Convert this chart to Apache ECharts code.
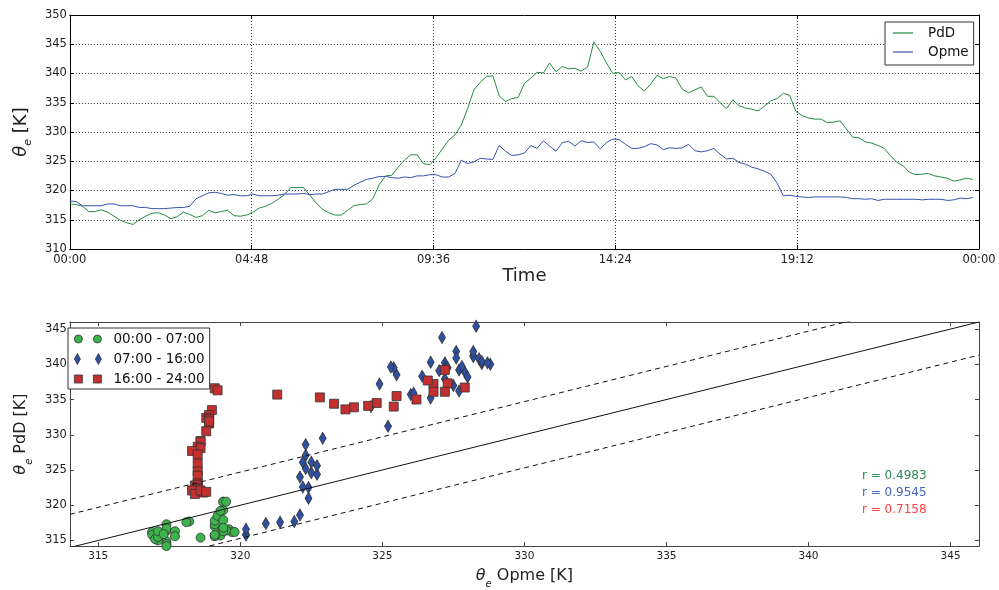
<!DOCTYPE html>
<html>
<head>
<meta charset="utf-8">
<script src="https://cdn.jsdelivr.net/npm/echarts@6/dist/echarts.min.js"></script>
<style>
  html, body { margin: 0; padding: 0; background: #fff; }
  #chart { width: 999px; height: 590px; }
</style>
</head>
<body>
<div id="chart"></div>
<script>
// Equivalent potential temperature at the two stations, one value every 10 minutes.
const SAMPLE_MINUTES = 10;

// 00:00 - 06:50
const PDD_NIGHT = [
  317.7, 317.6, 317.3, 316.4, 316.4, 316.7, 316.3, 315.6, 314.9, 314.5,
  314.2, 315.0, 315.6, 316.1, 316.2, 315.8, 315.2, 315.5, 316.3, 315.9,
  315.4, 315.7, 316.6, 316.2, 316.4, 316.6, 315.7, 315.6, 315.8, 316.3,
  317.0, 317.3, 317.8, 318.5, 319.3, 320.5, 320.5, 320.5, 319.2, 317.9,
  316.8, 316.2
];
const OPME_NIGHT = [
  318.2, 318.1, 317.4, 317.4, 317.4, 317.4, 317.7, 317.7, 317.4, 317.4,
  317.4, 317.1, 317.1, 316.9, 316.9, 316.9, 317.0, 317.1, 317.1, 317.3,
  318.6, 319.1, 319.6, 319.7, 319.5, 319.2, 319.3, 319.1, 319.1, 319.4,
  319.1, 319.1, 319.1, 319.2, 319.4, 319.4, 319.4, 319.5, 319.3, 319.4,
  319.4, 319.8
];

// 07:00 - 15:50
const PDD_DAY = [
  315.8, 315.8, 316.6, 317.4, 317.6, 317.7, 318.6, 321.0, 322.5, 322.6,
  324.0, 325.2, 326.1, 326.1, 324.6, 324.4, 325.6, 327.1, 328.6, 329.5,
  331.2, 334.0, 337.2, 338.5, 339.5, 339.6, 336.2, 335.2, 335.7, 335.9,
  338.3, 339.2, 340.2, 340.1, 341.8, 340.3, 341.2, 340.8, 340.9, 340.4,
  341.1, 345.4, 343.8, 341.8, 340.0, 340.2, 338.9, 339.5, 337.9, 337.0,
  338.2, 339.7, 339.1, 339.5
];
const OPME_DAY = [
  320.2, 320.2, 320.2, 320.9, 321.4, 321.9, 322.1, 322.4, 322.4, 322.2,
  322.1, 322.3, 322.2, 322.5, 322.5, 322.7, 322.7, 322.3, 322.3, 322.9,
  325.2, 324.6, 324.9, 325.5, 325.4, 325.3, 327.7, 326.7, 326.0, 326.1,
  326.4, 327.7, 327.2, 328.5, 327.6, 326.7, 328.2, 328.4, 327.6, 328.5,
  328.2, 328.3, 327.1, 328.2, 328.8, 328.7, 327.9, 327.2, 327.2, 327.5,
  328.0, 327.8, 327.0, 327.3
];

// 16:00 - 23:50
const PDD_EVENING = [
  339.2, 337.3, 336.7, 337.2, 337.7, 336.1, 336.1, 335.0, 334.0, 335.5,
  334.5, 334.1, 333.9, 333.6, 334.4, 335.3, 335.7, 336.6, 336.3, 333.5,
  332.8, 332.4, 332.2, 332.2, 331.6, 331.7, 331.9, 330.5, 329.1, 329.0,
  328.3, 328.1, 327.7, 327.2, 325.9, 324.8, 324.2, 323.1, 322.7, 322.8,
  322.9, 322.5, 322.3, 322.1, 321.6, 321.8, 322.1, 321.9
];
const OPME_EVENING = [
  327.2, 327.3, 327.9, 326.8, 326.6, 326.8, 327.2, 326.2, 325.4, 325.5,
  324.8, 324.5, 324.0, 323.7, 323.3, 322.8, 321.3, 319.1, 319.2, 319.0,
  318.9, 318.8, 318.9, 318.9, 318.9, 318.9, 318.9, 318.8, 318.6, 318.6,
  318.5, 318.6, 318.3, 318.5, 318.5, 318.5, 318.5, 318.5, 318.5, 318.4,
  318.5, 318.5, 318.5, 318.3, 318.4, 318.7, 318.6, 318.8
];

const SERIES_NAMES = ['PdD', 'Opme'];
const PERIOD_LABELS = ['00:00 - 07:00', '07:00 - 16:00', '16:00 - 24:00'];
const R_VALUES = ['0.4983', '0.9545', '0.7158'];
const SCATTER_TICKS = [315, 320, 325, 330, 335, 340, 345];
const BAND_OFFSETS = [0, 4.7, -4.7];   // 1:1 line and the dashed band around it

const FONT = 'DejaVu Sans';
const X_RANGE = [314, 346];
const Y_RANGE = [314.2, 346];

const PDD = PDD_NIGHT.concat(PDD_DAY, PDD_EVENING);
const OPME = OPME_NIGHT.concat(OPME_DAY, OPME_EVENING);
const hours = PDD.map((_, i) => i * SAMPLE_MINUTES / 60);

const pad2 = n => (n < 10 ? '0' : '') + n;
const clock = v => {
  const m = Math.round(v * 60) % 1440;
  return pad2(Math.floor(m / 60)) + ':' + pad2(m % 60);
};

const periods = [
  { pdd: PDD_NIGHT, opme: OPME_NIGHT, symbol: 'circle', size: 9, color: '#3db34c',
    icon: 'path://M0,4A4,4,0,1,1,8,4A4,4,0,1,1,0,4ZM19,4A4,4,0,1,1,27,4A4,4,0,1,1,19,4Z' },
  { pdd: PDD_DAY, opme: OPME_DAY, symbol: 'diamond', size: [7, 12], color: '#2d50a3',
    icon: 'path://M3,0L6,5.5L3,11L0,5.5ZM24,0L27,5.5L24,11L21,5.5Z' },
  { pdd: PDD_EVENING, opme: OPME_EVENING, symbol: 'rect', size: 9, color: '#c4302f',
    icon: 'path://M0,0L8,0L8,8L0,8ZM19,0L27,0L27,8L19,8Z' }
];
const LINE_COLORS = ['#228c44', '#3652ad'];
const R_COLORS = ['#2e8b57', '#4466bb', '#ff4040'];

const thetaRich = (size) => ({
  t: { fontFamily: FONT, fontStyle: 'italic', fontSize: size, lineHeight: 26 },
  s: { fontFamily: FONT, fontStyle: 'italic', fontSize: Math.round(size * 0.62), lineHeight: 12, verticalAlign: 'bottom' }
});

const frameAxis = (grid, pos, range, extra) => Object.assign({
  gridIndex: grid, type: 'value', position: pos, min: range[0], max: range[1],
  axisLine: { show: true, onZero: false, lineStyle: { color: grid === 0 ? '#000' : '#444', width: 1 } },
  axisTick: { show: true, inside: true, length: 4, lineStyle: { color: grid === 0 ? '#000' : '#444' } },
  axisLabel: { show: false },
  splitLine: { show: false }
}, extra || {});

const gridDots = { show: true, lineStyle: { color: '#333', width: 1, type: [1, 2] } };
const scatterTicks = { show: true, inside: true, length: 4, customValues: SCATTER_TICKS, lineStyle: { color: '#444' } };

const option = {
  animation: false,
  backgroundColor: '#fff',
  textStyle: { fontFamily: FONT },
  grid: [
    { left: 62, right: 20, top: 15, height: 234 },
    { left: 62, right: 20, top: 322, height: 233 }
  ],
  xAxis: [
    frameAxis(0, 'bottom', [0, 24], {
      interval: 4.8,
      axisLabel: { show: true, formatter: clock, fontFamily: FONT, fontSize: 11.5, color: '#222', margin: 5 },
      splitLine: gridDots,
      name: 'Time', nameLocation: 'middle', nameGap: 14,
      nameTextStyle: { fontFamily: FONT, fontSize: 18, color: '#222' }
    }),
    frameAxis(0, 'top', [0, 24], { interval: 4.8 }),
    frameAxis(1, 'bottom', X_RANGE, {
      axisTick: scatterTicks,
      axisLabel: { show: true, customValues: SCATTER_TICKS, fontFamily: FONT, fontSize: 10.5, color: '#222', margin: 5 },
      name: '{t|θ}{s|e} Opme [K]', nameLocation: 'middle', nameGap: 11,
      nameTextStyle: { fontFamily: FONT, fontSize: 16, color: '#222', lineHeight: 26, rich: thetaRich(16) }
    }),
    frameAxis(1, 'top', X_RANGE, { axisTick: scatterTicks })
  ],
  yAxis: [
    frameAxis(0, 'left', [310, 350], {
      interval: 5,
      axisLabel: { show: true, fontFamily: FONT, fontSize: 11.5, color: '#222', margin: 3 },
      splitLine: gridDots,
      name: '{t|θ}{s|e} [K]', nameLocation: 'middle', nameRotate: 90, nameGap: 27,
      nameTextStyle: { fontFamily: FONT, fontSize: 18, color: '#222', lineHeight: 26, rich: thetaRich(18) }
    }),
    frameAxis(0, 'right', [310, 350], { interval: 5 }),
    frameAxis(1, 'left', Y_RANGE, {
      axisTick: scatterTicks,
      axisLabel: { show: true, customValues: SCATTER_TICKS, fontFamily: FONT, fontSize: 11.5, color: '#222', margin: 3 },
      name: '{t|θ}{s|e} PdD [K]', nameLocation: 'middle', nameRotate: 90, nameGap: 26,
      nameTextStyle: { fontFamily: FONT, fontSize: 16, color: '#222', lineHeight: 26, rich: thetaRich(16) }
    }),
    frameAxis(1, 'right', Y_RANGE, { axisTick: scatterTicks })
  ],
  legend: [
    {
      data: SERIES_NAMES.map(name => ({ name, icon: 'path://M0,0L20,0L20,1.2L0,1.2Z' })),
      orient: 'vertical', left: 885, top: 22,
      padding: [4, 5, 6, 8], itemWidth: 20, itemHeight: 14, itemGap: 5,
      borderColor: '#333', borderWidth: 1, backgroundColor: '#fff', selectedMode: false,
      itemStyle: { borderWidth: 0 },
      textStyle: { fontFamily: FONT, fontSize: 13.5, color: '#111', lineHeight: 14, padding: [0, 0, 0, 10] }
    },
    {
      data: PERIOD_LABELS.map((name, i) => ({ name, icon: periods[i].icon })),
      orient: 'vertical', left: 68, top: 328,
      padding: [4, 5, 3, 6], itemWidth: 27, itemHeight: 11, itemGap: 6,
      borderColor: '#333', borderWidth: 1, backgroundColor: '#fff', selectedMode: false,
      itemStyle: { borderColor: '#333', borderWidth: 0.8 },
      textStyle: { fontFamily: FONT, fontSize: 13.5, color: '#111', lineHeight: 14, padding: [0, 0, 0, 7] }
    }
  ],
  graphic: R_VALUES.map((r, i) => ({
    type: 'text', left: 862, top: 470 + i * 17,
    style: { text: 'r = ' + r, fill: R_COLORS[i], font: '12px "DejaVu Sans"' }
  })),
  series: [PDD, OPME].map((vals, s) => ({
    name: SERIES_NAMES[s], type: 'line', xAxisIndex: 0, yAxisIndex: 0,
    symbol: 'none', lineStyle: { color: LINE_COLORS[s], width: 1 }, itemStyle: { color: LINE_COLORS[s] },
    data: hours.map((h, i) => [h, vals[i]])
  })).concat(periods.map((p, i) => ({
    name: PERIOD_LABELS[i], type: 'scatter', xAxisIndex: 2, yAxisIndex: 2,
    symbol: p.symbol, symbolSize: p.size, z: 2,
    itemStyle: { color: p.color, borderColor: '#333', borderWidth: 0.8, opacity: 1 },
    data: p.opme.map((x, j) => [x, p.pdd[j]])
  }))).concat(BAND_OFFSETS.map(off => ({
    type: 'line', xAxisIndex: 2, yAxisIndex: 2, symbol: 'none', silent: true, z: 3,
    lineStyle: { color: '#111', width: 1, type: off === 0 ? 'solid' : [5, 4] },
    data: [[X_RANGE[0], X_RANGE[0] + off], [X_RANGE[1], X_RANGE[1] + off]]
  })))
};

const chart = echarts.init(document.getElementById('chart'));
chart.setOption(option);
</script>
</body>
</html>
